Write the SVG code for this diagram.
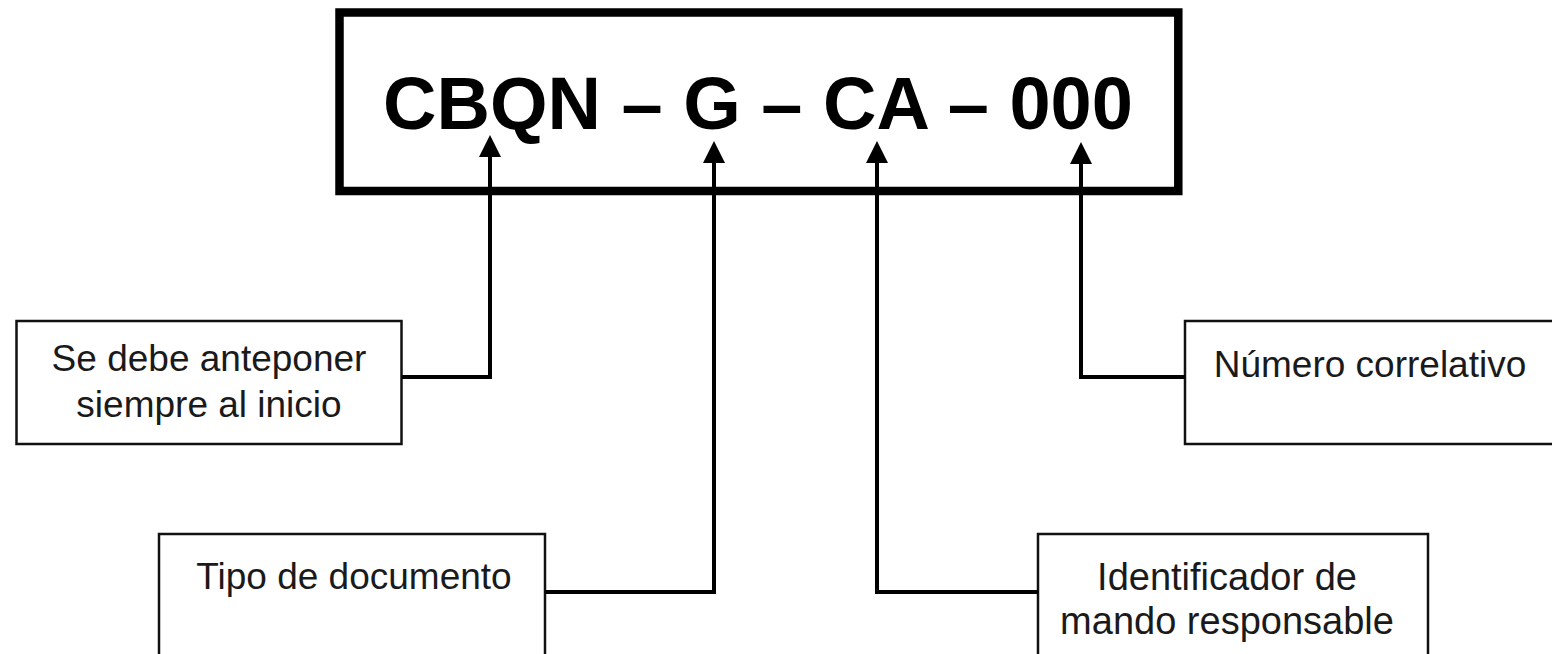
<svg xmlns="http://www.w3.org/2000/svg" width="1552" height="654" viewBox="0 0 1552 654">
<style>
.box{fill:#fff;stroke:#111;stroke-width:2.5}
.lbl{font-family:"Liberation Sans",Arial,sans-serif;font-size:37px;fill:#1a1a1a;text-anchor:middle}
.conn{fill:none;stroke:#000;stroke-width:4;stroke-linejoin:miter}
</style>
<defs>
<marker id="ah" viewBox="0 0 22 22" refX="0" refY="11" markerWidth="22" markerHeight="22" markerUnits="userSpaceOnUse" orient="auto">
<path d="M0,0 L22,11 L0,22 z" fill="#000"/>
</marker>
</defs>
<rect width="1552" height="654" fill="#fff"/>
<g id="code">
<rect x="339.5" y="12.5" width="838.8" height="178.5" fill="#fff" stroke="#000" stroke-width="8.5"/>
<text x="758" y="129" font-family="'Liberation Sans',Arial,sans-serif" font-size="74" font-weight="bold" text-anchor="middle" fill="#000">CBQN – G – CA – 000</text>
</g>
<g id="n1">
<rect class="box" x="16.5" y="321" width="385" height="123"/>
<text class="lbl" x="209" y="371">Se debe anteponer</text>
<text class="lbl" x="209" y="417">siempre al inicio</text>
</g>
<g id="n2">
<rect class="box" x="159" y="534" width="386" height="140"/>
<text class="lbl" x="354" y="589">Tipo de documento</text>
</g>
<g id="n3">
<rect class="box" x="1038" y="534" width="390" height="140"/>
<text class="lbl" x="1227" y="590" style="font-size:38px">Identificador de</text>
<text class="lbl" x="1227" y="634" style="font-size:38px">mando responsable</text>
</g>
<g id="n4">
<rect class="box" x="1185" y="321" width="380" height="123"/>
<text class="lbl" x="1370" y="377">Número correlativo</text>
</g>
<g id="connectors">
<path class="conn" d="M402,377 H490 V157" marker-end="url(#ah)"/>
<path class="conn" d="M545,592 H714 V163" marker-end="url(#ah)"/>
<path class="conn" d="M1038,592 H877 V163" marker-end="url(#ah)"/>
<path class="conn" d="M1185,377 H1081 V164" marker-end="url(#ah)"/>
</g>
</svg>
